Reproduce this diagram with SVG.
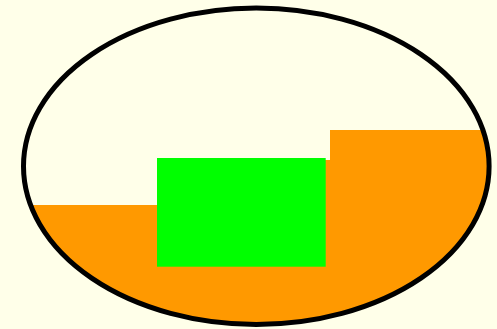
<svg xmlns="http://www.w3.org/2000/svg" width="497" height="329" viewBox="0 0 497 329">
<defs>
<clipPath id="clip"><ellipse cx="256.3" cy="166.2" rx="232.8" ry="158.2"/></clipPath>
</defs>
<style>
.fill{fill:#FF9900}
.outline{fill:none;stroke:#000;stroke-width:5}
</style>
<rect width="497" height="329" fill="#FFFFE9"/>
<g id="liquid" clip-path="url(#clip)">
<path class="fill" d="M0 205 H157 V160 H330 V130 H497 V329 H0 Z"/>
</g>
<rect id="block" x="157" y="158" width="168.7" height="108.7" fill="#00FF00"/>
<ellipse id="vessel" class="outline" cx="256.3" cy="166.2" rx="232.8" ry="158.2"/>
</svg>
